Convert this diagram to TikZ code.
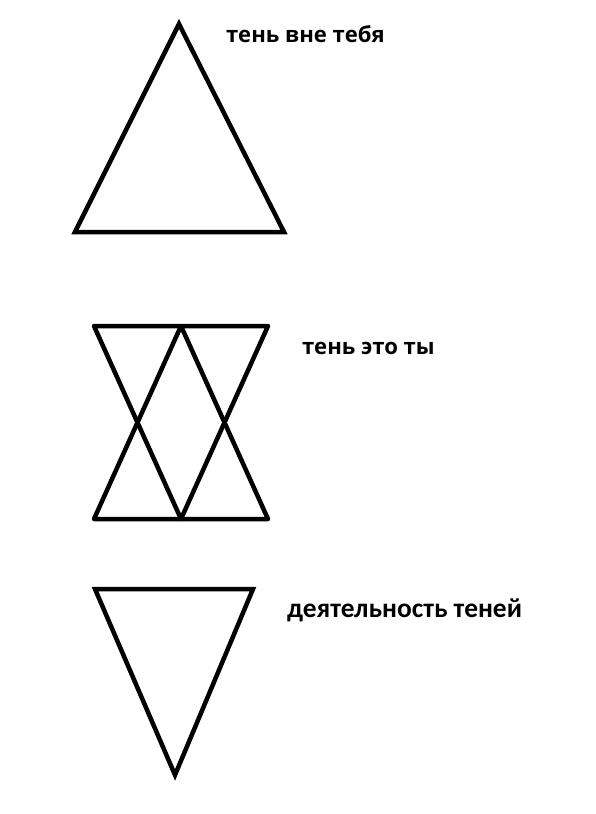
\documentclass[tikz,border=0pt]{standalone}
\usepackage{fontspec}
\newfontfamily\opensans{Open Sans}
\newfontfamily\carlito{Carlito}
\tikzset{
  edge/.style={line width=4.5pt,black},
  caption/.style={anchor=base west,inner sep=0pt,font=\bfseries}
}
\begin{document}
\begin{tikzpicture}[x=1pt,y=-1pt]
    \useasboundingbox[fill=white] (0,0) rectangle (596,814);

    % upward triangle
    \coordinate (upTop)   at (179,24);
    \coordinate (upLeft)  at (75,232);
    \coordinate (upRight) at (284,232);
    \draw[edge] (upTop) -- (upLeft) -- (upRight) -- cycle;
    \node[caption,font=\opensans\bfseries\fontsize{22.1}{27}\selectfont] (outside) at (226,42) {тень вне тебя};

    % both triangles
    \coordinate (bothTL) at (94,326);
    \coordinate (bothTM) at (181,326);
    \coordinate (bothTR) at (268,326);
    \coordinate (bothBL) at (94,519);
    \coordinate (bothBM) at (181,519);
    \coordinate (bothBR) at (268,519);
    \draw[edge,line join=round] (bothTL) -- (bothTR) -- (bothBM) -- cycle;
    \draw[edge,line join=round] (bothBL) -- (bothBR) -- (bothTM) -- cycle;
    \node[caption,font=\opensans\bfseries\fontsize{22.1}{27}\selectfont] (you) at (302,354) {тень это ты};

    % downward triangle
    \coordinate (downLeft)   at (95,589);
    \coordinate (downRight)  at (253,589);
    \coordinate (downBottom) at (175,775);
    \draw[edge] (downLeft) -- (downRight) -- (downBottom) -- cycle;
    \node[caption,font=\carlito\bfseries\fontsize{27.4}{32}\selectfont] (activity) at (287,617) {деятельность теней};

\end{tikzpicture}
\end{document}
